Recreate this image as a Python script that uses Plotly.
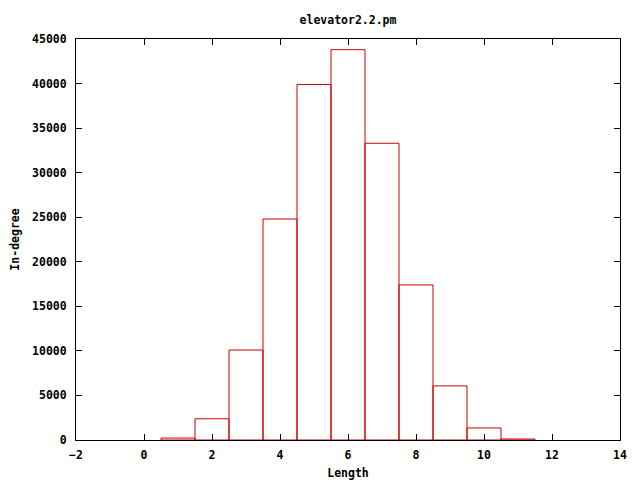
import plotly.graph_objects as go

lengths = [1, 2, 3, 4, 5, 6, 7, 8, 9, 10, 11]
indegree = [220, 2380, 10100, 24800, 39900, 43800, 33300, 17400, 6070, 1350, 110]

font = dict(family="DejaVu Sans Mono", size=11.5, color="black", weight="bold")

fig = go.Figure()
fig.add_trace(go.Bar(
    x=lengths, y=indegree, width=1,
    marker=dict(color="rgba(255,255,255,0)", line=dict(color="#cc0000", width=1)),
))
axis_common = dict(
    showgrid=False, zeroline=False, showline=True, linecolor="black", linewidth=1,
    mirror="ticks", ticks="inside", ticklen=6, tickcolor="black",
    tickfont=font, automargin=False, tickformat="d", layer="above traces",
)
fig.update_layout(
    width=640, height=480,
    margin=dict(l=68, r=28, t=31, b=48),
    plot_bgcolor="white", paper_bgcolor="white",
    showlegend=False,
    title=dict(text="elevator2.2.pm", x=(68 + 612) / 2 / 640, xanchor="center",
               xref="container", yref="container", y=1 - 12 / 480, yanchor="middle",
               font=font),
    xaxis=dict(range=[-2, 14], dtick=2, tick0=0, ticklabelstandoff=4,
               title=dict(text="Length", font=font, standoff=8), **axis_common),
    yaxis=dict(range=[0, 45000], dtick=5000, tick0=0, ticklabelstandoff=6,
               title=dict(text="In-degree", font=font, standoff=14), **axis_common),
)
fig.write_html("out.html")
